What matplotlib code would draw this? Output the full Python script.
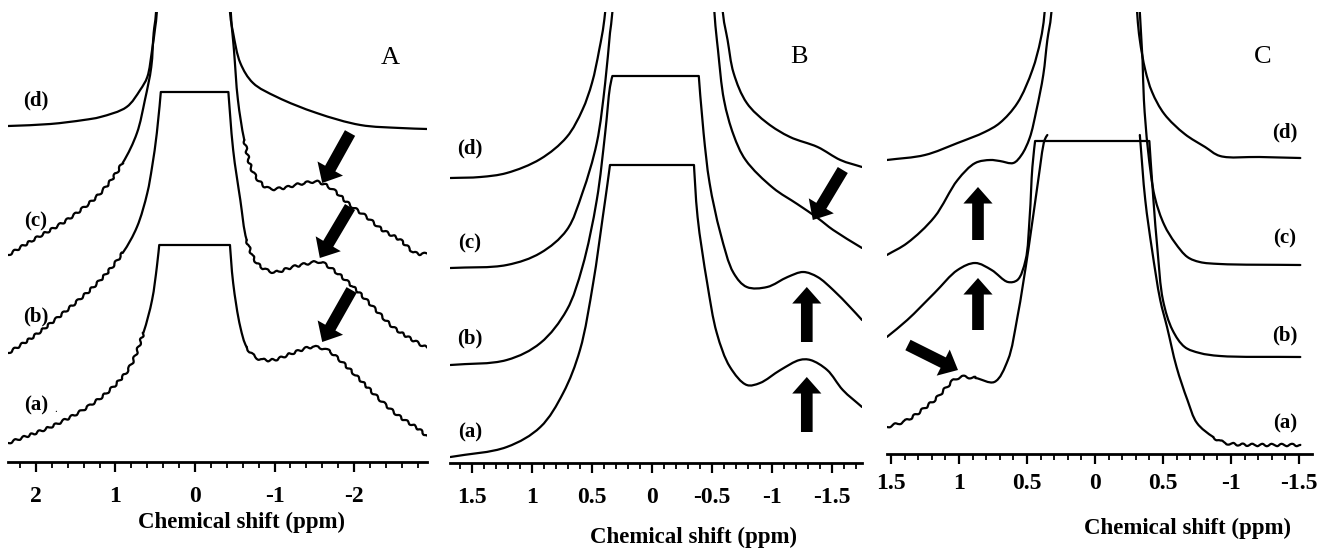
import numpy as np
import matplotlib
matplotlib.use("Agg")
import matplotlib.pyplot as plt
from matplotlib.ticker import MultipleLocator, FixedLocator, FixedFormatter
from matplotlib.path import Path
from matplotlib.patches import PathPatch

# ---------------- data (chemical shift in ppm, intensity in a.u.) ----------------
NAN = np.nan
# Panel A
A_d_ppm = [2.35, 1.82, 1.40, 1.19, 0.86, 0.69, 0.60, 0.54, 0.50, 0.48, 0.02, -0.44, -0.48, -0.57, -0.73, -1.03, -1.53, -2.08, -2.58, -2.92]
A_d_int = [336, 338, 342, 345, 355, 372, 385, 412, 435, 450, 1500, 450, 429, 399, 379, 365, 349, 337, 334, 333]
A_c_ppm = [2.35, 2.04, 1.61, 1.19, 0.91, 0.73, 0.63, 0.55, 0.52, 0.49, 0.02, -0.45, -0.49, -0.54, -0.62, -0.73, -0.91, -1.11, -1.32, -1.55, -1.74, -1.95, -2.16, -2.36, -2.58, -2.77, -2.92]
A_c_int = [207, 222, 242, 269, 299, 329, 362, 395, 429, 450, 1500, 450, 412, 362, 322, 290, 274, 274, 278, 280, 272, 257, 245, 232, 222, 209, 208]
A_b_ppm = [2.35, 2.04, 1.61, 1.19, 0.91, 0.73, 0.60, 0.54, 0.48, 0.43, -0.42, -0.48, -0.57, -0.65, -0.78, -0.98, -1.23, -1.45, -1.57, -1.74, -1.99, -2.24, -2.49, -2.74, -2.92]
A_b_int = [109, 125, 152, 182, 209, 235, 269, 295, 329, 370, 370, 312, 262, 222, 199, 190, 195, 199, 200, 192, 175, 155, 135, 122, 114]
A_a_ppm = [2.35, 1.82, 1.41, 1.07, 0.82, 0.65, 0.54, 0.48, 0.45, -0.44, -0.48, -0.57, -0.65, -0.78, -0.98, -1.23, -1.48, -1.66, -1.82, -2.08, -2.33, -2.58, -2.83, -2.92]
A_a_int = [19, 35, 52, 72, 95, 129, 162, 195, 217, 217, 179, 135, 115, 104, 102, 109, 115, 112, 102, 82, 62, 45, 32, 25]

# Panel B
B_d_ppm = [1.68, 1.43, 1.21, 0.93, 0.71, 0.58, 0.50, 0.44, 0.39, -0.10, -0.59, -0.63, -0.68, -0.79, -0.96, -1.15, -1.38, -1.57, -1.75]
B_d_int = [285, 286, 290, 304, 326, 353, 380, 413, 451, 1500, 451, 423, 390, 360, 340, 326, 316, 303, 296]
B_c_ppm = [1.68, 1.21, 0.93, 0.71, 0.58, 0.46, 0.39, 0.35, 0.33, -0.10, -0.52, -0.55, -0.60, -0.68, -0.78, -1.01, -1.21, -1.38, -1.51, -1.75]
B_c_int = [195, 198, 210, 233, 270, 320, 380, 430, 451, 1500, 451, 413, 363, 328, 303, 275, 259, 245, 233, 215]
B_b_ppm = [1.68, 1.21, 0.93, 0.71, 0.58, 0.46, 0.39, 0.35, 0.33, -0.39, -0.43, -0.48, -0.57, -0.68, -0.79, -0.96, -1.13, -1.26, -1.38, -1.51, -1.65, -1.75]
B_b_int = [98, 103, 120, 153, 196, 263, 330, 376, 387, 387, 330, 280, 230, 190, 176, 176, 186, 191, 186, 173, 156, 143]
B_a_ppm = [1.68, 1.21, 0.93, 0.74, 0.60, 0.49, 0.41, 0.37, 0.35, -0.35, -0.38, -0.46, -0.54, -0.65, -0.79, -0.90, -1.07, -1.23, -1.32, -1.46, -1.59, -1.75]
B_a_int = [6, 16, 36, 70, 113, 180, 246, 280, 298, 298, 246, 180, 130, 96, 78, 80, 93, 103, 103, 93, 73, 56]

# Panel C
C_d_ppm = [1.53, 1.25, 1.01, 0.81, 0.70, 0.57, 0.46, 0.40, 0.37, 0.02, -0.31, -0.33, -0.37, -0.42, -0.51, -0.66, -0.81, -0.92, -1.21, -1.51]
C_d_int = [294, 299, 311, 322, 331, 351, 384, 414, 442, 1500, 442, 414, 384, 362, 340, 320, 307, 298, 297, 296]
C_c_ppm = [1.53, 1.38, 1.18, 1.01, 0.88, 0.77, 0.70, 0.60, 0.54, 0.48, 0.43, 0.38, 0.35, 0.32, 0.0, -0.33, -0.35, -0.36, -0.39, -0.44, -0.51, -0.59, -0.68, -0.77, -0.92, -1.51]
C_c_int = [199, 211, 237, 274, 291, 294, 293, 291, 299, 316, 344, 379, 414, 442, 1500, 442, 394, 354, 304, 257, 229, 211, 197, 192, 190, 189]
C_b_ppm = [1.53, 1.38, 1.18, 1.01, 0.88, 0.76, 0.64, 0.57, 0.51, 0.48, 0.46, 0.44, -0.40, -0.43, -0.46, -0.50, -0.57, -0.66, -0.77, -0.92, -1.51]
C_b_int = [117, 134, 161, 184, 191, 184, 172, 174, 194, 237, 287, 313, 313, 254, 204, 154, 124, 107, 101, 98, 97]
C_a_ppm = [1.53, 1.38, 1.18, 1.01, 0.88, 0.74, 0.64, 0.57, 0.49, 0.42, 0.37, 0.35, NAN, -0.33, -0.37, -0.42, -0.48, -0.53, -0.60, -0.68, -0.75, -0.87, -0.96, -1.21, -1.51]
C_a_int = [27, 34, 54, 76, 76, 72, 94, 137, 204, 271, 314, 319, NAN, 319, 254, 204, 154, 127, 87, 54, 31, 17, 11, 9, 9]

# tick labels
A_ticks = [2, 1, 0, -1, -2]
A_ticklabels = ["2", "1", "0", "-1", "-2"]
B_ticks = [1.5, 1, 0.5, 0, -0.5, -1, -1.5]
B_ticklabels = ["1.5", "1", "0.5", "0", "-0.5", "-1", "-1.5"]
C_ticks = [1.5, 1, 0.5, 0, -0.5, -1, -1.5]
C_ticklabels = ["1.5", "1", "0.5", "0", "0.5", "-1", "-1.5"]

# arrows (tail, tip) in (ppm, intensity)
A_arrows = [((-1.95, 329), (-1.60, 279)), ((-1.95, 255), (-1.57, 204)), ((-1.97, 172), (-1.60, 120))]
B_arrows = [((-1.59, 293), (-1.34, 243)), ((-1.29, 121), (-1.29, 176)), ((-1.29, 31), (-1.29, 86))]
C_arrows = [((0.86, 214), (0.86, 267)), ((0.86, 124), (0.86, 176)), ((1.375, 109), (1.007, 84))]

curve_labels = ["(d)", "(c)", "(b)", "(a)"]
xlabel = "Chemical shift (ppm)"

# ---------------- figure ----------------
W, H = 1323, 549
fig = plt.figure(figsize=(W / 100, H / 100), dpi=100)
SERIF = ["Liberation Serif", "DejaVu Serif"]


def rect(l, r, t, b):
    return [l / W, 1 - b / H, (r - l) / W, (b - t) / H]


def fx(px):
    return px / W


def fy(py):
    return 1 - py / H


def style_axis(ax, xlim, ylim, ticks, labels, minor, pad):
    ax.set_xlim(*xlim)
    ax.set_ylim(*ylim)
    for s in ("top", "left", "right"):
        ax.spines[s].set_visible(False)
    ax.spines["bottom"].set_linewidth(2.0)
    ax.set_yticks([])
    ax.xaxis.set_major_locator(FixedLocator(ticks))
    ax.xaxis.set_major_formatter(FixedFormatter(labels))
    ax.xaxis.set_minor_locator(MultipleLocator(minor))
    ax.tick_params(axis="x", which="major", direction="out", length=7, width=1.6, pad=pad,
                   labelsize=17)
    ax.tick_params(axis="x", which="minor", direction="out", length=4, width=1.3)
    for t in ax.get_xticklabels():
        t.set_fontfamily(SERIF)
        t.set_fontweight("bold")
    ax.patch.set_alpha(0)


def bezier_segments(ax, x, y):
    """Smooth (centripetal Catmull-Rom) rendering of the listed points.
    Returns list of (x0_data, x1_data, [4 control points in data coords])."""
    pts_all = np.column_stack([np.asarray(x, float), np.asarray(y, float)])
    good = ~np.isnan(pts_all).any(axis=1)
    runs, cur = [], []
    for i, g in enumerate(good):
        if g:
            cur.append(i)
        elif cur:
            runs.append(cur)
            cur = []
    if cur:
        runs.append(cur)
    inv = ax.transData.inverted()
    out = []
    for run in runs:
        P = ax.transData.transform(pts_all[run])
        D = pts_all[run]
        n = len(P)
        if n < 2:
            continue
        corner = np.zeros(n, bool)
        for i in range(n):
            for j in (i - 1, i + 1):
                if 0 <= j < n and abs(D[i, 1] - D[j, 1]) < 1e-9 and abs(P[i, 0] - P[j, 0]) > 40:
                    corner[i] = True
        for i in range(n - 1):
            P1, P2 = P[i], P[i + 1]
            P0 = P[i - 1] if i > 0 else 2 * P1 - P2
            P3 = P[i + 2] if i + 2 < n else 2 * P2 - P1
            d0 = max(np.linalg.norm(P1 - P0) ** 0.5, 1e-6)
            d1 = max(np.linalg.norm(P2 - P1) ** 0.5, 1e-6)
            d2 = max(np.linalg.norm(P3 - P2) ** 0.5, 1e-6)
            T1 = (P1 - P0) / d0 - (P2 - P0) / (d0 + d1) + (P2 - P1) / d1
            T2 = (P2 - P1) / d1 - (P3 - P1) / (d1 + d2) + (P3 - P2) / d2
            B1 = P1 if corner[i] else P1 + d1 * T1 / 3
            B2 = P2 if corner[i + 1] else P2 - d1 * T2 / 3
            cps = inv.transform(np.array([P1, B1, B2, P2]))
            out.append((D[i, 0], D[i + 1, 0], cps))
    return out


def add_group(ax, segs, sketch=None):
    if not segs:
        return
    verts, codes = [], []
    prev_end = None
    for _, _, cps in segs:
        if prev_end is None or np.abs(cps[0] - prev_end).max() > 1e-9:
            verts.append(cps[0])
            codes.append(Path.MOVETO)
        verts.extend(cps[1:])
        codes.extend([Path.CURVE4] * 3)
        prev_end = cps[3]
    patch = PathPatch(Path(np.array(verts), codes), fill=False, ec="k", lw=1.6,
                      joinstyle="round", capstyle="round")
    if sketch is not None:
        patch.set_sketch_params(*sketch)
    ax.add_patch(patch)


def draw(ax, x, y, wig=None, sk=(1.2, 9, 1.4)):
    segs = bezier_segments(ax, x, y)
    if wig is None:
        add_group(ax, segs)
        return
    lo, hi = wig
    groups = []
    for s in segs:
        kind = 1 if (min(s[0], s[1]) >= lo or max(s[0], s[1]) <= hi) else 0
        if groups and groups[-1][0] == kind:
            groups[-1][1].append(s)
        else:
            groups.append((kind, [s]))
    for kind, g in groups:
        add_group(ax, g, sk if kind else None)


def arrows(ax, lst):
    for tail, tip in lst:
        ax.annotate("", xy=tip, xytext=tail, xycoords="data", textcoords="data",
                    arrowprops=dict(arrowstyle="simple,head_length=0.85,head_width=1.5,tail_width=0.6",
                                    fc="k", ec="k", lw=0, shrinkA=0, shrinkB=0,
                                    mutation_scale=14))


# Panel A
axA = fig.add_axes(rect(8, 427, 12, 462))
style_axis(axA, (2.352, -2.918), (0, 450), A_ticks, A_ticklabels, 0.2, 10)
draw(axA, A_d_ppm, A_d_int)
draw(axA, A_c_ppm, A_c_int, wig=(0.75, -0.62))
draw(axA, A_b_ppm, A_b_int, wig=(0.75, -0.65))
draw(axA, A_a_ppm, A_a_int, wig=(0.65, -0.65))
arrows(axA, A_arrows)

# Panel B
axB = fig.add_axes(rect(450, 862, 12, 463))
style_axis(axB, (1.683, -1.75), (0, 451), B_ticks, B_ticklabels, 0.1, 10)
for x, y in [(B_d_ppm, B_d_int), (B_c_ppm, B_c_int), (B_b_ppm, B_b_int), (B_a_ppm, B_a_int)]:
    draw(axB, x, y)
arrows(axB, B_arrows)

# Panel C
axC = fig.add_axes(rect(887, 1312, 12, 454))
style_axis(axC, (1.529, -1.596), (0, 442), C_ticks, C_ticklabels, 0.1, 7)
draw(axC, C_d_ppm, C_d_int)
draw(axC, C_c_ppm, C_c_int)
draw(axC, C_b_ppm, C_b_int)
draw(axC, C_a_ppm, C_a_int, wig=(0.85, -0.8), sk=(1.2, 10, 1.4))
arrows(axC, C_arrows)

# curve labels
lab_kw = dict(ha="center", va="center", fontsize=15, fontweight="bold", family=SERIF)
for lab, py in zip(curve_labels, [100, 221, 316, 405]):
    fig.text(fx(36), fy(py), lab, **lab_kw)
fig.text(fx(56), fy(410), ".", ha="center", va="center", fontsize=8, family=SERIF)
for lab, py in zip(curve_labels, [148, 243, 338, 432]):
    fig.text(fx(470), fy(py), lab, **lab_kw)
for lab, py in zip(curve_labels, [132, 238, 335, 423]):
    fig.text(fx(1285), fy(py), lab, **lab_kw)

# panel letters
for lab, px, py in [("A", 390, 58), ("B", 799, 57), ("C", 1263, 57)]:
    fig.text(fx(px), fy(py), lab, ha="center", va="center", fontsize=19, family=SERIF)

# x labels
for px, py in [(241, 522), (694, 537), (1188, 528)]:
    fig.text(fx(px), fy(py), xlabel, ha="center", va="center", fontsize=16.5,
             fontweight="bold", family=SERIF)

fig.savefig("out.png", dpi=100)
